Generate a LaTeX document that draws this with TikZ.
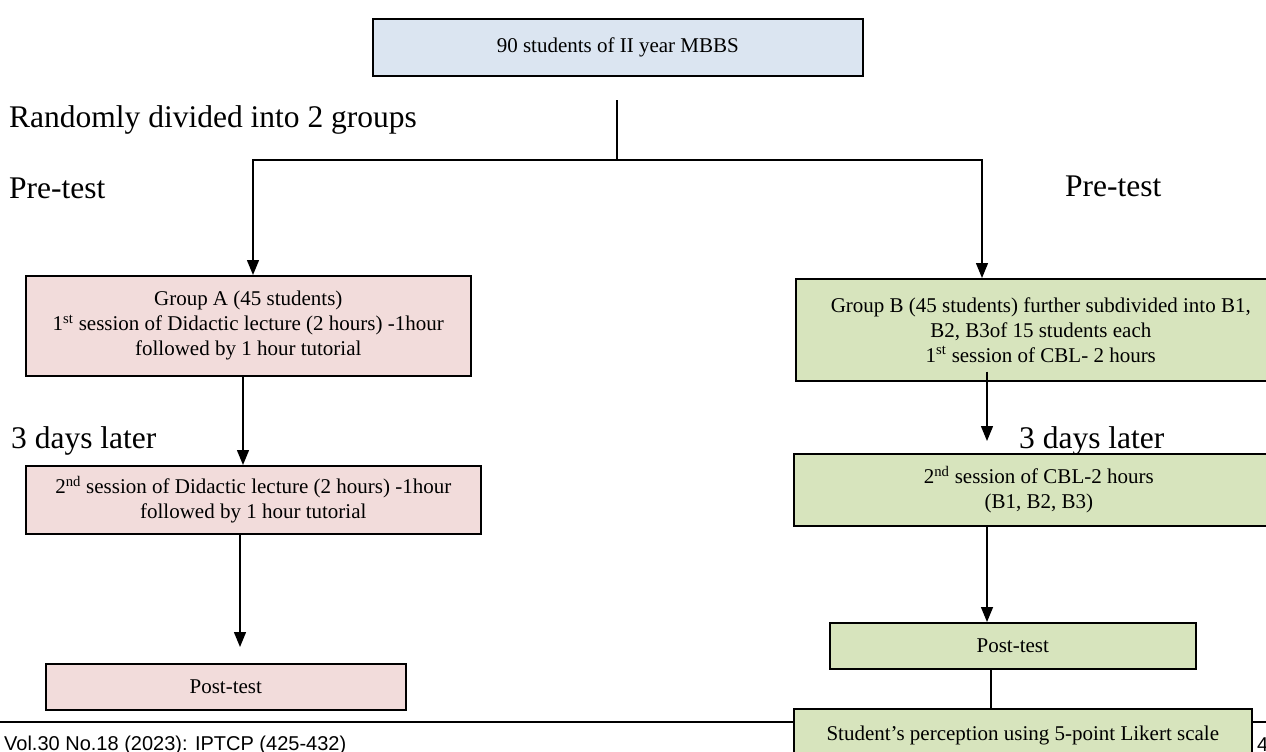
\documentclass[tikz,border=0pt]{standalone}
\usepackage{fontspec}
\setmainfont{Liberation Serif}
\newfontfamily\footfont{Liberation Sans}
\usetikzlibrary{arrows.meta,positioning}
\definecolor{stuBlue}{HTML}{DBE5F1}
\definecolor{stuPink}{HTML}{F2DCDB}
\definecolor{stuGreen}{HTML}{D7E4BD}
\tikzset{
  box/.style={rectangle,draw=black,line width=1.6pt,inner sep=2pt,
              align=center,font=\fontsize{21}{25}\selectfont,anchor=north west},
  topb/.style={box,fill=stuBlue},
  grpa/.style={box,fill=stuPink},
  grpb/.style={box,fill=stuGreen},
  arr/.style={-{Triangle[length=15pt,width=12pt]},line width=1.4pt},
  conn/.style={line width=1.4pt},
  lbl/.style={font=\fontsize{31.5}{36}\selectfont,inner sep=0pt,anchor=west},
  foot/.style={font=\footfont\fontsize{20}{24}\selectfont,anchor=west,inner sep=0pt},
}
\begin{document}
\begin{tikzpicture}[x=1pt,y=-1pt]
  \useasboundingbox (0,0) rectangle (1266,752);
  % top
  \node[topb,minimum width=490pt,minimum height=57pt] (all) at (372,18) {90 students of II year MBBS};
  \coordinate (split) at (617,100);
  \node[lbl] (rand) at (9,120) {Randomly divided into 2 groups};
  \node[lbl] (preA) at (9,188) {Pre-test};
  \node[lbl] (preB) at (1065,186) {Pre-test};
  % group A
  \node[grpa,minimum width=445pt,minimum height=100pt] (ga1) at (25,275)
    {Group A (45 students)\\1\textsuperscript{st} session of Didactic lecture (2 hours) -1hour\\followed by 1 hour tutorial};
  \node[lbl] (lateA) at (11,441) {3 days later};
  \node[grpa,minimum width=455pt,minimum height=68pt] (ga2) at (25,465)
    {2\textsuperscript{nd} session of Didactic lecture (2 hours) -1hour\\followed by 1 hour tutorial};
  \node[grpa,minimum width=360pt,minimum height=46pt] (gapost) at (45,663) {Post-test};
  % group B
  \node[grpb,minimum width=490pt,minimum height=102pt] (gb1) at (795,278)
    {Group B (45 students) further subdivided into B1,\\B2, B3of 15 students each\\1\textsuperscript{st} session of CBL- 2 hours};
  \node[lbl] (lateB) at (1019,441) {3 days later};
  \node[grpb,minimum width=490pt,minimum height=72pt] (gb2) at (793,453)
    {2\textsuperscript{nd} session of CBL-2 hours\\(B1, B2, B3)};
  \node[grpb,minimum width=366pt,minimum height=46pt] (gbpost) at (829,622) {Post-test};
  % footer
  \draw[line width=1.6pt] (0,722) -- (1266,722);
  \node[grpb,minimum width=458pt,minimum height=54pt] (likert) at (793,708)
    {Student's perception using 5-point Likert scale};
  \node[foot] (vol) at (4,745) {Vol.30 No.18 (2023): IPTCP (425-432)};
  \node[foot] (pg) at (1257,745) {4};
  % connectors
  \draw[conn] (split) -- (split |- 0,160) coordinate (fork);
  \draw[arr] (fork) -| (ga1.north -| 253,0);
  \draw[arr] (fork) -| (gb1.north -| 982,0);
  \draw[arr] (ga1.south -| 243,0) -- (ga2.north -| 243,0);
  \draw[arr] (ga2.south -| 240,0) -- ([yshift=16pt]gapost.north -| 240,0);
  \draw[arr] ([yshift=10pt]gb1.south -| 987,0) -- ([yshift=12pt]gb2.north -| 987,0);
  \draw[arr] (gb2.south -| 987,0) -- (gbpost.north -| 987,0);
  \draw[conn] (gbpost.south -| 991,0) -- (likert.north -| 991,0);
\end{tikzpicture}
\end{document}
